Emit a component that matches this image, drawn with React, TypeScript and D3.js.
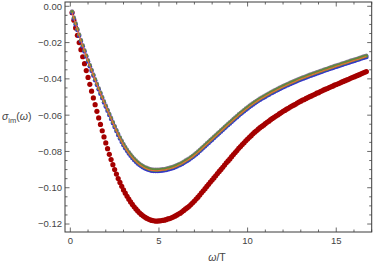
import React from 'react';
import * as d3 from 'd3';

// omega/T sample grid: 0.1 ... 16.7
const omega: number[] = d3.range(1, 168).map(i => i / 10);

// upper curve (several overlapping series share it)
const sigmaUpper: number[] = [
  -0.0031, -0.0064, -0.0096, -0.0127, -0.0158, -0.0188, -0.0217, -0.0245, -0.0273, -0.0300,
  -0.0326, -0.0352, -0.0378, -0.0404, -0.0429, -0.0454, -0.0478, -0.0502, -0.0526, -0.0549,
  -0.0572, -0.0595, -0.0617, -0.0640, -0.0662, -0.0684, -0.0705, -0.0725, -0.0744, -0.0762,
  -0.0778, -0.0793, -0.0807, -0.0820, -0.0832, -0.0843, -0.0853, -0.0862, -0.0870, -0.0877,
  -0.0883, -0.0889, -0.0893, -0.0897, -0.0900, -0.0902, -0.0903, -0.0904, -0.0904, -0.0903,
  -0.0902, -0.0901, -0.0900, -0.0898, -0.0895, -0.0893, -0.0890, -0.0887, -0.0883, -0.0879,
  -0.0874, -0.0870, -0.0865, -0.0859, -0.0853, -0.0847, -0.0841, -0.0834, -0.0827, -0.0819,
  -0.0811, -0.0803, -0.0794, -0.0785, -0.0776, -0.0767, -0.0758, -0.0749, -0.0740, -0.0731,
  -0.0722, -0.0713, -0.0704, -0.0695, -0.0686, -0.0677, -0.0668, -0.0659, -0.0650, -0.0642,
  -0.0633, -0.0624, -0.0615, -0.0607, -0.0598, -0.0590, -0.0582, -0.0574, -0.0566, -0.0559,
  -0.0551, -0.0544, -0.0537, -0.0530, -0.0524, -0.0517, -0.0511, -0.0505, -0.0500, -0.0494,
  -0.0488, -0.0483, -0.0477, -0.0472, -0.0467, -0.0462, -0.0457, -0.0452, -0.0447, -0.0442,
  -0.0438, -0.0433, -0.0429, -0.0424, -0.0420, -0.0416, -0.0412, -0.0407, -0.0403, -0.0399,
  -0.0395, -0.0392, -0.0388, -0.0384, -0.0380, -0.0377, -0.0373, -0.0370, -0.0366, -0.0363,
  -0.0359, -0.0356, -0.0352, -0.0349, -0.0346, -0.0342, -0.0339, -0.0336, -0.0332, -0.0329,
  -0.0326, -0.0323, -0.0319, -0.0316, -0.0313, -0.0310, -0.0307, -0.0303, -0.0300, -0.0297,
  -0.0294, -0.0291, -0.0288, -0.0284, -0.0281, -0.0278, -0.0275,
];

// lower (red) curve
const sigmaRed: number[] = [
  -0.0035, -0.0077, -0.0119, -0.0160, -0.0200, -0.0239, -0.0278, -0.0316, -0.0354, -0.0392,
  -0.0430, -0.0468, -0.0505, -0.0542, -0.0579, -0.0615, -0.0651, -0.0686, -0.0720, -0.0753,
  -0.0785, -0.0816, -0.0845, -0.0873, -0.0900, -0.0925, -0.0949, -0.0971, -0.0992, -0.1012,
  -0.1030, -0.1047, -0.1063, -0.1078, -0.1092, -0.1105, -0.1117, -0.1128, -0.1138, -0.1147,
  -0.1155, -0.1162, -0.1168, -0.1173, -0.1177, -0.1180, -0.1182, -0.1184, -0.1184, -0.1183,
  -0.1182, -0.1180, -0.1179, -0.1176, -0.1172, -0.1170, -0.1166, -0.1162, -0.1157, -0.1151,
  -0.1145, -0.1140, -0.1133, -0.1125, -0.1117, -0.1110, -0.1102, -0.1093, -0.1083, -0.1073,
  -0.1062, -0.1052, -0.1040, -0.1028, -0.1017, -0.1005, -0.0993, -0.0981, -0.0969, -0.0958,
  -0.0946, -0.0934, -0.0922, -0.0910, -0.0899, -0.0887, -0.0875, -0.0863, -0.0852, -0.0841,
  -0.0829, -0.0817, -0.0806, -0.0795, -0.0783, -0.0773, -0.0762, -0.0752, -0.0741, -0.0732,
  -0.0722, -0.0713, -0.0703, -0.0694, -0.0686, -0.0677, -0.0669, -0.0662, -0.0655, -0.0647,
  -0.0639, -0.0633, -0.0625, -0.0618, -0.0612, -0.0605, -0.0599, -0.0592, -0.0586, -0.0579,
  -0.0574, -0.0567, -0.0562, -0.0555, -0.0550, -0.0545, -0.0540, -0.0533, -0.0528, -0.0523,
  -0.0517, -0.0514, -0.0508, -0.0503, -0.0498, -0.0494, -0.0489, -0.0485, -0.0479, -0.0476,
  -0.0470, -0.0466, -0.0461, -0.0457, -0.0453, -0.0448, -0.0444, -0.0440, -0.0435, -0.0431,
  -0.0427, -0.0423, -0.0418, -0.0414, -0.0410, -0.0406, -0.0402, -0.0397, -0.0393, -0.0389,
  -0.0385, -0.0381, -0.0377, -0.0372, -0.0368, -0.0364, -0.0360,
];

const xMajor = [0, 5, 10, 15];
const yMajor = [0, -0.02, -0.04, -0.06, -0.08, -0.1, -0.12];

const W = 374;
const H = 264;
const left = 65;
const right = 371.7;
const top = 2;
const bottom = 232;

const fmtY = (v: number) => (v === 0 ? '0.00' : '\u2212' + Math.abs(v).toFixed(2));

export default function App() {
  const x = d3.scaleLinear().domain([-0.3, 17]).range([left, right]);
  const y = d3.scaleLinear().domain([0.00237, -0.1244]).range([top, bottom]);

  const xMinor = d3.range(0, 17.01, 1).filter(v => !xMajor.includes(v));
  const yMinor = d3.range(0, -0.1241, -0.005).filter(v => !yMajor.some(m => Math.abs(m - v) < 1e-9));

  const line = d3.line<number>()
    .x((_, i) => x(omega[i]))
    .y(d => y(d));

  const frame = '#3a3a3a';
  const tickCol = '#444';
  const textCol = '#444';

  return (
    <svg width={W} height={H} style={{ position: 'absolute', left: 0, top: 0, background: '#fff' }}
      fontFamily="'Liberation Sans', Arial, sans-serif">
      {/* red series */}
      <g fill="#a50000">
        {sigmaRed.map((v, i) => (
          <circle key={i} cx={x(omega[i])} cy={y(v)} r={2.6} />
        ))}
      </g>
      {/* overlapping upper series */}
      <g fill="#3535c8" transform="translate(0,0.7)">
        {sigmaUpper.map((v, i) => (
          <circle key={i} cx={x(omega[i])} cy={y(v)} r={2.3} />
        ))}
      </g>
      <g fill="#8a7a9a" transform="translate(0,-0.7)">
        {sigmaUpper.map((v, i) => (
          <circle key={i} cx={x(omega[i])} cy={y(v)} r={2.0} />
        ))}
      </g>
      <g fill="#5f8a3a" transform="translate(0,-0.2)">
        {sigmaUpper.map((v, i) => (
          <circle key={i} cx={x(omega[i])} cy={y(v)} r={1.8} />
        ))}
      </g>
      <path d={line(sigmaUpper) ?? ''} fill="none" stroke="#ee6a3a" strokeWidth={1.1} transform="translate(0,0.4)" />

      {/* frame */}
      <rect x={left} y={top} width={right - left} height={bottom - top} fill="none" stroke={frame} strokeWidth={1} />

      {/* ticks on all four sides */}
      <g stroke={tickCol} strokeWidth={0.8}>
        {xMajor.map(v => (
          <g key={'xm' + v}>
            <line x1={x(v)} x2={x(v)} y1={bottom} y2={bottom - 4.5} />
            <line x1={x(v)} x2={x(v)} y1={top} y2={top + 4.5} />
          </g>
        ))}
        {xMinor.map(v => (
          <g key={'xn' + v}>
            <line x1={x(v)} x2={x(v)} y1={bottom} y2={bottom - 2.5} />
            <line x1={x(v)} x2={x(v)} y1={top} y2={top + 2.5} />
          </g>
        ))}
        {yMajor.map(v => (
          <g key={'ym' + v}>
            <line x1={left} x2={left + 4.5} y1={y(v)} y2={y(v)} />
            <line x1={right} x2={right - 4.5} y1={y(v)} y2={y(v)} />
          </g>
        ))}
        {yMinor.map(v => (
          <g key={'yn' + v}>
            <line x1={left} x2={left + 2.5} y1={y(v)} y2={y(v)} />
            <line x1={right} x2={right - 2.5} y1={y(v)} y2={y(v)} />
          </g>
        ))}
      </g>

      {/* tick labels */}
      <g fontSize={9.5} fill={textCol}>
        {xMajor.map(v => (
          <text key={'xl' + v} x={x(v)} y={bottom + 12} textAnchor="middle">{v}</text>
        ))}
        {yMajor.map(v => (
          <text key={'yl' + v} x={left - 3} y={y(v) + 3.4} textAnchor="end">{fmtY(v)}</text>
        ))}
      </g>

      {/* axis labels */}
      <text x={217} y={261} textAnchor="middle" fontSize={10.5} fill={textCol}>
        <tspan fontStyle="italic" fill={textCol}>ω</tspan>/T
      </text>
      <text x={2} y={120} fontSize={10.5} fill={textCol}>
        <tspan fontStyle="italic" fill={textCol}>σ</tspan>
        <tspan fontSize={7.5} dy={2.5} fill={textCol}>im</tspan>
        <tspan dy={-2.5} fill={textCol}>(</tspan>
        <tspan fontStyle="italic" fill={textCol}>ω</tspan>
        <tspan fill={textCol}>)</tspan>
      </text>
    </svg>
  );
}
